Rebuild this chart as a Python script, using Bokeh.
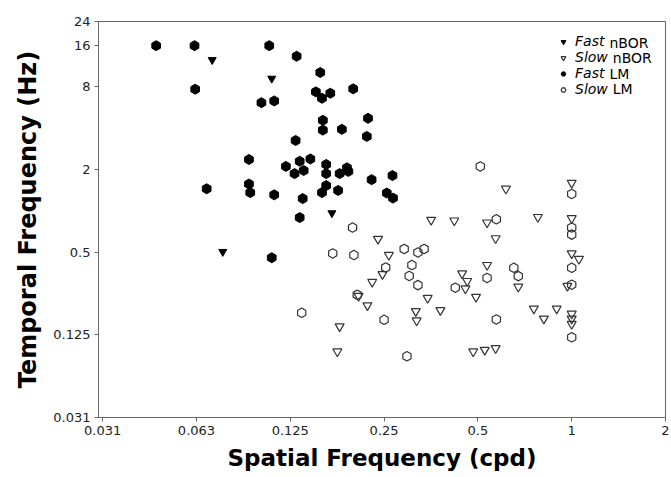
import math
from bokeh.plotting import figure
from bokeh.models import FixedTicker, Legend, LegendItem, Label, Range1d
from bokeh.embed import file_html
from bokeh.resources import INLINE

# ---- data ----
x_ticks = [0.03125, 0.0625, 0.125, 0.25, 0.5, 1, 2]
x_tick_labels = ["0.031", "0.063", "0.125", "0.25", "0.5", "1", "2"]
y_ticks = [0.03125, 0.125, 0.5, 2, 8, 16, 24]
y_tick_labels = ["0.031", "0.125", "0.5", "2", "8", "16", "24"]

fast_nbor_x = [0.0702, 0.109, 0.170, 0.0759]
fast_nbor_y = [12.6, 9.22, 0.965, 0.504]

slow_nbor_x = [0.615, 1.0, 0.354, 0.420, 0.535, 0.779, 1.0, 0.570, 0.239, 0.259,
               1.0, 1.055, 0.247, 0.229, 0.445, 0.462, 0.456, 0.535, 0.493, 0.674,
               0.969, 0.207, 0.221, 0.345, 0.379, 0.316, 0.318, 0.756, 0.814, 0.895,
               1.0, 1.0, 1.0, 0.180, 0.177, 0.483, 0.526, 0.570]
slow_nbor_y = [1.45, 1.60, 0.860, 0.850, 0.822, 0.902, 0.884, 0.631, 0.625, 0.477,
               0.490, 0.446, 0.346, 0.304, 0.350, 0.308, 0.272, 0.403, 0.236, 0.280,
               0.284, 0.240, 0.205, 0.232, 0.189, 0.186, 0.159, 0.194, 0.164, 0.194,
               0.178, 0.164, 0.150, 0.144, 0.0945, 0.0945, 0.0971, 0.0999]

fast_lm_x = [0.0464, 0.0616, 0.107, 0.131, 0.156, 0.0619, 0.151, 0.168, 0.158, 0.199,
             0.101, 0.111, 0.159, 0.159, 0.183, 0.222, 0.220, 0.130, 0.0921, 0.134,
             0.145, 0.121, 0.129, 0.138, 0.163, 0.163, 0.180, 0.190, 0.192, 0.228,
             0.266, 0.0674, 0.0921, 0.0930, 0.111, 0.137, 0.163, 0.158, 0.178, 0.255,
             0.267, 0.134, 0.109]
fast_lm_y = [16, 16, 16, 13.4, 10.2, 7.71, 7.37, 7.20, 6.62, 7.75,
             6.15, 6.33, 4.57, 3.88, 3.93, 4.73, 3.49, 3.26, 2.37, 2.30,
             2.39, 2.11, 1.87, 1.97, 2.18, 1.87, 1.87, 2.06, 1.94, 1.69,
             1.81, 1.45, 1.57, 1.36, 1.31, 1.23, 1.53, 1.36, 1.41, 1.35,
             1.24, 0.894, 0.456]

slow_lm_x = [0.509, 1.0, 0.573, 0.198, 1.0, 1.0, 0.171, 0.200, 0.290, 0.321,
             0.336, 0.253, 0.307, 0.301, 0.321, 0.652, 0.674, 1.0, 0.535, 0.423,
             1.0, 0.205, 0.136, 0.250, 0.573, 1.0, 0.296]
slow_lm_y = [2.11, 1.33, 0.869, 0.756, 0.756, 0.672, 0.490, 0.477, 0.528, 0.498,
             0.528, 0.387, 0.403, 0.336, 0.288, 0.385, 0.335, 0.385, 0.325, 0.276,
             0.290, 0.245, 0.181, 0.161, 0.162, 0.120, 0.0872]

legend_words = ["Fast", "Slow", "Fast", "Slow"]
legend_suffix = ["nBOR", "nBOR", "LM", "LM"]

FONT = "DejaVu Sans"
AXIS_GREY = "#666666"
OPEN_LINE = "#333333"

p = figure(width=671, height=477, x_axis_type="log", y_axis_type="log",
           x_range=Range1d(0.0303, 2.0), y_range=Range1d(0.03125, 24),
           output_backend="svg", toolbar_location=None,
           min_border_left=98, min_border_right=6, min_border_top=21,
           min_border_bottom=60)
p.grid.visible = False
p.outline_line_color = AXIS_GREY
p.background_fill_color = "white"
p.border_fill_color = "white"

p.xaxis.ticker = FixedTicker(ticks=x_ticks)
p.xaxis.major_label_overrides = dict(zip(x_ticks, x_tick_labels))
p.yaxis.ticker = FixedTicker(ticks=y_ticks)
p.yaxis.major_label_overrides = dict(zip(y_ticks, y_tick_labels))

for ax in (p.xaxis, p.yaxis):
    ax.axis_line_color = AXIS_GREY
    ax.major_tick_line_color = AXIS_GREY
    ax.major_tick_in = 0
    ax.major_tick_out = 4
    ax.minor_tick_line_color = None
    ax.major_label_text_font = FONT
    ax.major_label_text_font_size = "13px"
    ax.major_label_text_color = "#222222"
    ax.major_label_standoff = 4
    ax.axis_label_text_font = FONT
    ax.axis_label_text_font_style = "bold"
    ax.axis_label_text_color = "black"

p.xaxis.axis_label = "Spatial Frequency (cpd)"
p.xaxis.axis_label_text_font_size = "23px"
p.xaxis.axis_label_standoff = 7
p.yaxis.axis_label = "Temporal Frequency (Hz)"
p.yaxis.axis_label_text_font_size = "24px"
p.yaxis.axis_label_standoff = 8

r_fast_nbor = p.scatter(fast_nbor_x, fast_nbor_y, marker="inverted_triangle", size=8,
                        fill_color="black", line_color="black")
r_fast_lm = p.scatter(fast_lm_x, fast_lm_y, marker="hex", size=10, angle=math.pi / 6,
                      fill_color="black", line_color="black")
r_slow_nbor = p.scatter(slow_nbor_x, slow_nbor_y, marker="inverted_triangle", size=9,
                        fill_color=None, line_color=OPEN_LINE, line_width=1.2)
r_slow_lm = p.scatter(slow_lm_x, slow_lm_y, marker="hex", size=9.5, angle=math.pi / 6,
                      fill_color=None, line_color=OPEN_LINE, line_width=1.2)

renderers = [r_fast_nbor, r_slow_nbor, r_fast_lm, r_slow_lm]
items = [LegendItem(label=w, renderers=[r]) for w, r in zip(legend_words, renderers)]
legend = Legend(items=items, location=(459, 320), border_line_color=None,
                background_fill_alpha=0, padding=0, margin=0, spacing=-1,
                glyph_width=12, glyph_height=15, label_height=15, label_standoff=6,
                label_text_font=FONT, label_text_font_style="italic",
                label_text_font_size="14px", label_text_color="black")
p.add_layout(legend)

row_y = [374.35, 359.05, 343.75, 328.45]
for w, s, yy in zip(legend_words, legend_suffix, row_y):
    xoff = 510.9 if w == "Fast" else 514.3
    p.add_layout(Label(x=xoff, y=yy, x_units="screen", y_units="screen", text=s,
                       text_font=FONT, text_font_size="14px", text_baseline="middle",
                       text_align="left", text_color="black"))

open("out.html", "w").write(file_html(p, INLINE))
